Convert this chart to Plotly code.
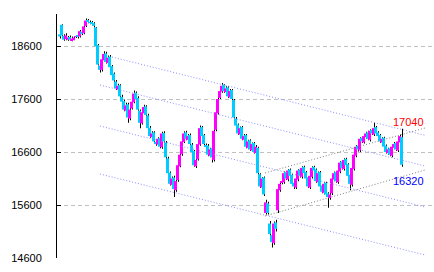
import plotly.graph_objects as go

# ---- OHLC data ----
open_ = [18820, 19000, 18790, 18730, 18720, 18770, 18710, 18730, 18770, 18800,
         18780, 18870, 18840, 18980, 19090, 19050, 19050, 19030, 18950, 18620,
         18230, 18150, 18330, 18460, 18280, 18400, 18220, 18080, 17930, 17780,
         17860, 17640, 17560, 17380, 17500, 17230, 17420, 17540, 17720, 17620,
         17380, 17140, 17330, 17460, 17290, 17060, 16880, 16970, 16790, 16740,
         16860, 16690, 16960, 16780, 16480, 16210, 15980, 16120, 15880, 16070,
         16330, 16560, 16790, 16970, 16830, 16920, 16740, 16620, 16330, 16460,
         16740, 17070, 16920, 16730, 16720, 16530, 16670, 16450, 17020, 17330,
         17620, 17740, 17870, 17730, 17820, 17630, 17770, 17580, 17230, 17120,
         16930, 17070, 16830, 16920, 16680, 16820, 16630, 16770, 16580, 16680,
         16180, 15930, 16120, 15450, 15630, 15250, 15030, 14880, 15270, 15500,
         15880, 16020, 16030, 16220, 16080, 16270, 16170, 16020, 15930, 16080,
         16270, 16130, 16320, 16220, 16120, 15930, 16130, 16320, 16270, 16030,
         16220, 15970, 15830, 16020, 15820, 15730, 15820, 16080, 16220, 16030,
         16230, 16420, 16280, 16470, 16370, 16170, 15980, 16280, 16530, 16720,
         16630, 16870, 16780, 16880, 16970, 16830, 17020, 16930, 17070, 16970,
         16920, 16780, 16870, 16720, 16580, 16670, 16530, 16680, 16770, 16630,
         16780, 16880]
high = [18850, 19010, 18820, 18840, 18790, 18800, 18780, 18790, 18810, 18830,
        18900, 18900, 18990, 19120, 19110, 19080, 19070, 19050, 18960, 18640,
        18260, 18380, 18500, 18490, 18420, 18430, 18240, 18100, 17960, 17890,
        17880, 17680, 17590, 17530, 17530, 17430, 17580, 17760, 17740, 17650,
        17400, 17380, 17490, 17480, 17320, 17090, 16990, 16990, 16820, 16880,
        16880, 16980, 16990, 16810, 16510, 16230, 16140, 16150, 16080, 16380,
        16580, 16830, 16990, 17000, 16940, 16950, 16770, 16640, 16480, 16780,
        17100, 17090, 16940, 16760, 16750, 16680, 16700, 17030, 17380, 17640,
        17790, 17900, 17880, 17840, 17840, 17790, 17790, 17600, 17260, 17140,
        17080, 17090, 16940, 16940, 16830, 16840, 16780, 16790, 16730, 16700,
        16200, 16130, 16140, 15700, 15660, 15300, 15080, 15290, 15320, 15950,
        16050, 16090, 16230, 16240, 16280, 16290, 16190, 16040, 16130, 16280,
        16290, 16330, 16340, 16240, 16140, 16180, 16330, 16340, 16290, 16230,
        16240, 15990, 16030, 16040, 15840, 15840, 16130, 16230, 16240, 16280,
        16430, 16440, 16480, 16490, 16390, 16190, 16330, 16580, 16730, 16750,
        16880, 16890, 16930, 16980, 17000, 17030, 17040, 17150, 17090, 16990,
        16940, 16880, 16890, 16740, 16680, 16690, 16730, 16790, 16790, 16830,
        16930, 17040]
low = [18740, 18780, 18700, 18710, 18700, 18700, 18690, 18710, 18750, 18740,
       18760, 18810, 18820, 18960, 19030, 19010, 18990, 18950, 18580, 18230,
       18100, 18120, 18310, 18270, 18250, 18180, 18020, 17920, 17770, 17750,
       17620, 17520, 17370, 17360, 17150, 17200, 17400, 17520, 17580, 17380,
       17050, 17120, 17310, 17270, 17020, 16870, 16850, 16770, 16720, 16720,
       16670, 16660, 16770, 16470, 16170, 15970, 15950, 15750, 15850, 16040,
       16310, 16530, 16770, 16820, 16800, 16720, 16570, 16320, 16300, 16440,
       16720, 16880, 16720, 16670, 16520, 16500, 16400, 16420, 16990, 17310,
       17600, 17720, 17720, 17700, 17620, 17600, 17570, 17220, 17070, 16920,
       16900, 16820, 16800, 16670, 16650, 16620, 16600, 16570, 16550, 16170,
       15920, 15900, 15770, 15420, 15420, 15000, 14800, 14850, 15100, 15450,
       15850, 15990, 16000, 16070, 16050, 16120, 15970, 15900, 15900, 16050,
       16120, 16100, 16170, 16070, 15920, 15900, 16100, 16220, 16020, 16000,
       15920, 15820, 15800, 15770, 15550, 15700, 15790, 16050, 16020, 16000,
       16200, 16270, 16250, 16320, 16120, 15880, 15950, 16250, 16500, 16610,
       16600, 16770, 16760, 16850, 16820, 16800, 16920, 16900, 16920, 16870,
       16770, 16750, 16670, 16570, 16550, 16520, 16500, 16650, 16620, 16600,
       16750, 16320]
close = [18780, 18800, 18720, 18800, 18760, 18720, 18740, 18760, 18780, 18770,
         18880, 18830, 18970, 19080, 19060, 19040, 19020, 18980, 18600, 18250,
         18150, 18350, 18450, 18300, 18380, 18200, 18050, 17950, 17800, 17850,
         17650, 17550, 17400, 17480, 17250, 17400, 17550, 17700, 17600, 17400,
         17150, 17350, 17450, 17300, 17050, 16900, 16950, 16800, 16750, 16850,
         16700, 16950, 16800, 16500, 16200, 16000, 16100, 15900, 16050, 16350,
         16550, 16800, 16950, 16850, 16900, 16750, 16600, 16350, 16450, 16750,
         17050, 16900, 16750, 16700, 16550, 16650, 16500, 17000, 17350, 17600,
         17750, 17850, 17750, 17800, 17650, 17750, 17600, 17250, 17100, 16950,
         17050, 16850, 16900, 16700, 16800, 16650, 16750, 16600, 16700, 16200,
         15950, 16100, 15800, 15650, 15450, 15050, 14900, 15250, 15150, 15900,
         16000, 16050, 16200, 16100, 16250, 16150, 16000, 15950, 16100, 16250,
         16150, 16300, 16200, 16100, 15950, 16150, 16300, 16250, 16050, 16200,
         15950, 15850, 16000, 15800, 15750, 15800, 16100, 16200, 16050, 16250,
         16400, 16300, 16450, 16350, 16150, 16000, 16300, 16550, 16700, 16650,
         16850, 16800, 16900, 16950, 16850, 17000, 16950, 17050, 16950, 16900,
         16800, 16850, 16700, 16600, 16650, 16550, 16700, 16750, 16650, 16800,
         16900, 16360]

# trend channel (purple dotted) endpoints: [bar index], [price]
trend_x = [[26.5, 183], [20.5, 183], [20.5, 183], [20.5, 183]]
trend_y = [[18392, 16916], [17864, 16336], [17091, 15562], [16185, 14657]]
# rising gray dotted channel
gray_x = [[103, 183], [103, 183]]
gray_y = [[16204, 17053], [15392, 16260]]

y_ticks = [14600, 15600, 16600, 17600, 18600]
y_range = [14600, 19204]

idx = list(range(len(close)))
body_base = [min(o, c) for o, c in zip(open_, close)]
body_h = [abs(c - o) for o, c in zip(open_, close)]
body_col = ['#FF00FF' if c >= o else '#00CCFF' for o, c in zip(open_, close)]
wick_h = [h - l for h, l in zip(high, low)]

fig = go.Figure()

for xs, ys in zip(trend_x, trend_y):
    fig.add_trace(go.Scatter(x=xs, y=ys, mode='lines',
                             line=dict(color='#8C8CFF', width=1, dash='1px,2px'),
                             hoverinfo='skip'))
for xs, ys in zip(gray_x, gray_y):
    fig.add_trace(go.Scatter(x=xs, y=ys, mode='lines',
                             line=dict(color='#808080', width=1, dash='1px,2px'),
                             hoverinfo='skip'))

fig.add_trace(go.Bar(x=idx, y=wick_h, base=low, width=0.5, offset=0.5,
                     marker=dict(color='black', line=dict(width=0))))
fig.add_trace(go.Bar(x=idx, y=body_h, base=body_base, width=1.5, offset=-0.5,
                     marker=dict(color=body_col, line=dict(width=0))))

fig.add_annotation(x=idx[-1], y=high[-1], text=str(high[-1]), showarrow=False,
                   xanchor='center', yanchor='middle', xshift=7.5, yshift=7,
                   font=dict(family='Liberation Sans, Arial', size=11, color='#FF0000'))
fig.add_annotation(x=idx[-1], y=low[-1], text=str(low[-1]), showarrow=False,
                   xanchor='center', yanchor='middle', xshift=7.5, yshift=-14,
                   font=dict(family='Liberation Sans, Arial', size=11, color='#0000FF'))

fig.update_layout(
    width=434, height=272,
    margin=dict(l=57, r=0, t=14, b=14),
    paper_bgcolor='white', plot_bgcolor='white',
    barmode='overlay', showlegend=False, hovermode=False,
    font=dict(family='Liberation Sans, Arial', size=10, color='black'),
)
fig.update_xaxes(range=[-1, 187.5], showgrid=False, zeroline=False,
                 showline=False, showticklabels=False, ticks='')
fig.update_yaxes(range=y_range, tickvals=y_ticks,
                 ticktext=[str(v) for v in y_ticks],
                 ticks='inside', ticklen=4, tickcolor='black', tickwidth=1,
                 showline=True, linecolor='black', linewidth=1,
                 showgrid=True, gridcolor='#C0C0C0', griddash='4px,3px', gridwidth=1,
                 zeroline=False, ticklabelstandoff=12,
                 tickfont=dict(family='Liberation Sans, Arial', size=11, color='black'))

fig.write_html("out.html")
